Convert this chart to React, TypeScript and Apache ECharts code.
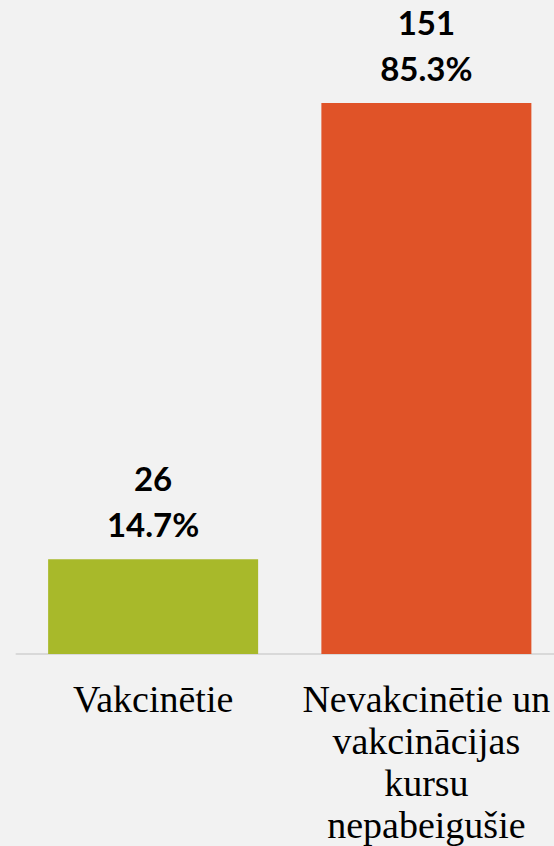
import React, { useEffect, useRef } from "react";
import * as echarts from "echarts";

const categories = ["Vakcinētie", "Nevakcinētie un\nvakcinācijas\nkursu\nnepabeigušie"];
const counts = [26, 151];
const percents = ["14.7%", "85.3%"];
const colors = ["#A8B92A", "#E05328"];

export default function App() {
  const ref = useRef<HTMLDivElement>(null);
  useEffect(() => {
    if (!ref.current) return;
    const chart = echarts.init(ref.current, null, { renderer: "svg" });
    chart.setOption({
      animation: false,
      backgroundColor: "#F2F2F2",
      grid: { left: 16.5, right: 0, top: 103, bottom: 191, containLabel: false },
      xAxis: {
        type: "category",
        data: categories,
        axisLine: { show: true, lineStyle: { color: "#D9D9D9", width: 2 } },
        axisTick: { show: false },
        axisLabel: {
          interval: 0,
          margin: 24,
          color: "#000000",
          fontFamily: "Liberation Serif",
          fontSize: 38,
          lineHeight: 42,
          align: "center",
        },
      },
      yAxis: {
        type: "value",
        min: 0,
        max: 151,
        show: false,
        splitLine: { show: false },
      },
      series: [
        {
          type: "bar",
          barWidth: 210,
          data: counts.map((v, i) => ({ value: v, itemStyle: { color: colors[i] } })),
          label: {
            show: true,
            position: "top",
            distance: 12,
            color: "#000000",
            fontFamily: "Lato",
            fontWeight: "bold",
            fontSize: 33,
            lineHeight: 46,
            formatter: (p: any) => `${counts[p.dataIndex]}\n${percents[p.dataIndex]}`,
          },
        },
      ],
    });
    return () => chart.dispose();
  }, []);
  return (
    <div
      style={{
        position: "absolute",
        left: 0,
        top: 0,
        width: 554,
        height: 846,
        overflow: "hidden",
        background: "#F2F2F2",
      }}
    >
      <div ref={ref} style={{ width: 563, height: 846 }} />
    </div>
  );
}
